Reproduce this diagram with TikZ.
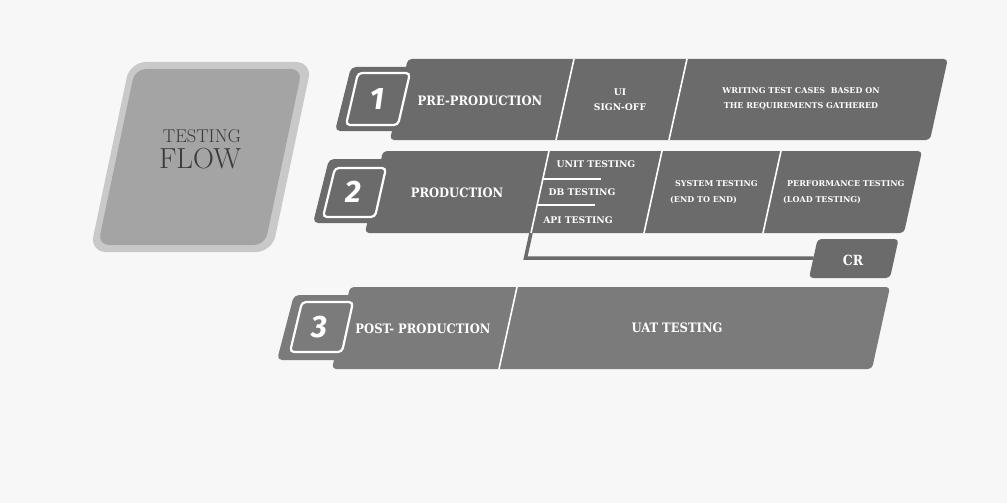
\documentclass[tikz,border=0pt]{standalone}
\usepackage{fontspec}
\newfontfamily\slabfont[FakeStretch=0.89]{DejaVu Serif}
\newfontfamily\slabsmallfont{DejaVu Serif}
\newfontfamily\numberfont{Fira Sans}
\newcommand\lblmain{\slabfont\bfseries\fontsize{13}{15}\selectfont}
\newcommand\lblsmall{\slabsmallfont\bfseries\fontsize{9.2}{15}\selectfont}
\newcommand\lbltiny{\slabsmallfont\bfseries\fontsize{8}{14.5}\selectfont}
\definecolor{bgc}{HTML}{F7F7F7}
\definecolor{bandc}{HTML}{6B6B6B}
\definecolor{bandl}{HTML}{7B7B7B}
\definecolor{boxout}{HTML}{C9C9C9}
\definecolor{boxin}{HTML}{A4A4A4}
\definecolor{txtdark}{HTML}{3A3A3A}
\tikzset{
  bandshape/.style={fill=#1, rounded corners=4pt},
  tabshape/.style={fill=#1, rounded corners=5pt},
  numbox/.style={fill=#1, draw=white, line width=2.2pt, rounded corners=4pt},
  sepline/.style={draw=white, line width=1.6pt},
  conn/.style={draw=bandc, line width=3.5pt},
  lab/.style={text=white, inner sep=0pt, font=\lblmain},
  smalllab/.style={text=white, inner sep=0pt, font=\lblsmall},
  tinylab/.style={text=white, inner sep=0pt, font=\lbltiny},
  num/.style={text=white, inner sep=0pt, font=\numberfont\bfseries\itshape\fontsize{31}{31}\selectfont},
  titletxt/.style={text=txtdark, inner sep=0pt},
}
\begin{document}
\begin{tikzpicture}[x=1pt,y=-1pt]
\fill[bgc] (0,0) rectangle (1007,503);

% left title box
\fill[boxout, rounded corners=16pt] (90,252) -- (272,252) -- (312,62) -- (130,62) -- cycle;
\fill[boxin, rounded corners=11pt] (98,245) -- (265,245) -- (302,69) -- (135,69) -- cycle;
\node[titletxt, font=\fontsize{18.5}{20}\selectfont] (t1) at (202,136.5) {TESTING};
\node[titletxt, font=\fontsize{29}{30}\selectfont] (t2) at (200,159) {FLOW};

% ---------- row 1 ----------
\fill[tabshape=bandc] (335,131) -- (400,131) -- (416,67) -- (351,67) -- cycle;
\fill[bandshape=bandc] (390,140) -- (930,140) -- (947.8,59) -- (407.8,59) -- cycle;
\path[numbox=bandc] (346,125) -- (398,125) -- (410,73) -- (358,73) -- cycle;
\node[num] (n1) at (377,99) {1};
\draw[sepline] (574,59) -- (556,140);
\draw[sepline] (687,59) -- (669,140);
\node[lab] (pre) at (480,101) {PRE-PRODUCTION};
\node[smalllab, align=center] (ui) at (620,100) {UI\\SIGN-OFF};
\node[tinylab, align=center] (wr) at (801,99) {WRITING TEST CASES\ \ BASED ON\\THE REQUIREMENTS GATHERED};

% ---------- row 2 ----------
\fill[tabshape=bandc] (313,223) -- (375,223) -- (391,159) -- (329,159) -- cycle;
\fill[bandshape=bandc] (365,233) -- (904,233) -- (922,151) -- (383,151) -- cycle;
\path[numbox=bandc] (323,217) -- (375,217) -- (386,168) -- (335,168) -- cycle;
\node[num] (n2) at (353,192) {2};
\coordinate (s2t) at (549,151);
\coordinate (s2b) at (531,233);
\draw[sepline] (s2t) -- (s2b);
\draw[sepline] (542.8,179) -- (601,179);
\draw[sepline] (537.1,205) -- (595,205);
\draw[sepline] (662,151) -- (644,233);
\draw[sepline] (781,151) -- (763,233);
\node[lab] (prod) at (457,193) {PRODUCTION};
\node[smalllab] (unit) at (596,164) {UNIT TESTING};
\node[smalllab] (db) at (582,192) {DB TESTING};
\node[smalllab] (api) at (578,220) {API TESTING};
\node[tinylab, anchor=west] (sys1) at (675,184) {SYSTEM TESTING};
\node[tinylab, anchor=west] (sys2) at (670,200) {(END TO END)};
\node[tinylab, anchor=west] (perf1) at (787,184) {PERFORMANCE TESTING};
\node[tinylab, anchor=west] (perf2) at (783,200) {(LOAD TESTING)};

% CR box and connector
\fill[bandshape=bandc] (809,278) -- (890,278) -- (898.6,239) -- (817.6,239) -- cycle;
\node[lab, font=\lblmain\fontsize{14}{15}\selectfont] (cr) at (853,260) {CR};
\coordinate (bend) at (525.5,258);
\coordinate (crin) at (813.5,258);
\draw[conn] (s2b) -- (bend) -- (crin);

% ---------- row 3 ----------
\fill[tabshape=bandl] (277,360) -- (345,360) -- (362,295) -- (294,295) -- cycle;
\fill[bandshape=bandl] (332,369) -- (872,369) -- (890,287) -- (350,287) -- cycle;
\path[numbox=bandl] (290,352) -- (342,352) -- (353,302) -- (302,302) -- cycle;
\node[num] (n3) at (319,327) {3};
\draw[sepline] (517,287) -- (499,369);
\node[lab] (post) at (423,329) {POST- PRODUCTION};
\node[lab] (uat) at (677,328) {UAT TESTING};
\end{tikzpicture}
\end{document}
